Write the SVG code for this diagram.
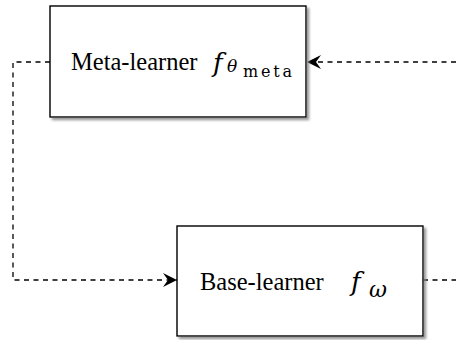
<svg xmlns="http://www.w3.org/2000/svg" width="456" height="340" viewBox="0 0 456 340">
  <style>
    .box { fill: #fff; stroke: #000; stroke-width: 1.4; filter: url(#shadow); }
    .conn { fill: none; stroke: #000; stroke-width: 1.3; stroke-dasharray: 5 4.5; }
    .lbl { font-family: "Liberation Serif", "Times New Roman", serif; font-size: 24.5px; fill: #000; }
    .mi { font-family: "DejaVu Serif", "Liberation Serif", serif; font-style: italic; fill: #000; }
    .mr { font-family: "DejaVu Serif", "Liberation Serif", serif; fill: #000; }
  </style>
  <defs>
    <filter id="shadow" x="-10%" y="-10%" width="125%" height="130%">
      <feDropShadow dx="2.5" dy="2.5" stdDeviation="1" flood-color="#808080" flood-opacity="0.8"/>
    </filter>
    <marker id="stealth" markerUnits="userSpaceOnUse" markerWidth="16" markerHeight="16" viewBox="-15 -8 16 16" refX="0" refY="0" orient="auto">
      <path d="M0,0 L-14,-7 L-9,0 L-14,7 Z" fill="#000"/>
    </marker>
  </defs>

  <g id="connectors">
    <path class="conn" d="M50,62 H13 V280 H177" marker-end="url(#stealth)"/>
    <path class="conn" d="M456,62 H307" marker-end="url(#stealth)"/>
    <path class="conn" d="M423,280 H456"/>
  </g>

  <g id="meta-learner">
    <rect class="box" x="50" y="6" width="256" height="111"/>
    <text class="lbl" x="71" y="69.5">Meta-learner</text>
    <text class="mi" x="213" y="72" font-size="26">f</text>
    <text class="mi" x="227" y="72" font-size="17">θ</text>
    <text class="mr" x="243" y="77" font-size="16" textLength="49" lengthAdjust="spacing">meta</text>
  </g>

  <g id="base-learner">
    <rect class="box" x="177" y="226" width="246" height="110"/>
    <text class="lbl" x="200" y="290">Base-learner</text>
    <text class="mi" x="351" y="291" font-size="26">f</text>
    <text class="mi" x="369" y="297" font-size="22">ω</text>
  </g>
</svg>
